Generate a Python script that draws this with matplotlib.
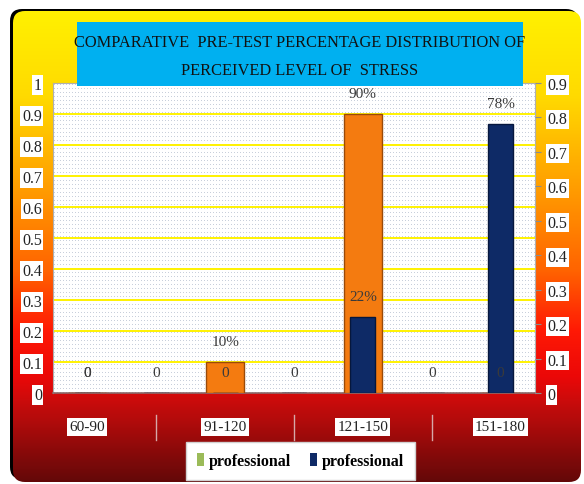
import numpy as np
import matplotlib
matplotlib.use("Agg")
import matplotlib.pyplot as plt
from matplotlib.patches import FancyBboxPatch, Rectangle, Patch
from matplotlib.lines import Line2D

# --- data ---
categories = ["60-90", "91-120", "121-150", "151-180"]
orange_slots = [0, 2, 4, 6]          # primary series sits on every second slot
orange_values = [0, 0.10, 0.90, 0]
navy_slots = [0, 1, 2, 3, 4, 5, 6]   # secondary series uses all seven slots
navy_values = [0, 0, 0, 0, 0.22, 0, 0.78]
left_ticks = [0, 0.1, 0.2, 0.3, 0.4, 0.5, 0.6, 0.7, 0.8, 0.9, 1]
right_ticks = [0, 0.1, 0.2, 0.3, 0.4, 0.5, 0.6, 0.7, 0.8, 0.9]
legend_labels = ["professional", "professional"]
title_lines = ["COMPARATIVE  PRE-TEST PERCENTAGE DISTRIBUTION OF",
               "PERCEIVED LEVEL OF  STRESS"]

ORANGE = "#F47B10"
NAVY = "#0E2A66"
SERIF = "Liberation Serif"

W, H = 584, 485
fig = plt.figure(figsize=(W / 100, H / 100), dpi=100)
fig.patch.set_facecolor("white")

# --- rounded gradient background ---
bg = fig.add_axes([0, 0, 1, 1], zorder=-10)
bg.axis("off")

bg.add_patch(FancyBboxPatch((10, 10), 568, 470, boxstyle="round,pad=0,rounding_size=12",
                            facecolor="black", edgecolor="none", zorder=0))
clip = FancyBboxPatch((13, 12), 568, 471, boxstyle="round,pad=0,rounding_size=12",
                      facecolor="none", edgecolor="none", zorder=0)
bg.add_patch(clip)

stops_y = np.array([12, 100, 200, 270, 330, 375, 405, 485]) / H
stops_c = np.array([
    [255, 242, 0], [255, 218, 0], [255, 150, 0], [255, 100, 0],
    [255, 25, 5], [235, 8, 8], [195, 12, 12], [90, 8, 8]]) / 255
yy = np.linspace(0, 1, 485)
grad = np.stack([np.interp(yy, stops_y, stops_c[:, k]) for k in range(3)], axis=-1)
grad = np.repeat(grad[:, None, :], 20, axis=1)
im = bg.imshow(grad, extent=(-5, W + 5, H + 5, -5), aspect="auto",
               interpolation="nearest", zorder=1)
im.set_clip_path(clip)
bg.set_xlim(0, W)
bg.set_ylim(H, 0)

# --- plot area ---
L, R, T, B = 53, 535, 84, 394
ax = fig.add_axes([L / W, 1 - B / H, (R - L) / W, (B - T) / H], zorder=2)
ax.set_xlim(-0.5, 6.5)
ax.set_ylim(0, 1)

# fine dotted fill of the plot area
pat = np.ones((B - T, R - L, 3))
pat[1::4, 1::3] = np.array([200, 207, 219]) / 255
ax.imshow(pat, extent=(-0.5, 6.5, 0, 1), aspect="auto", interpolation="nearest", zorder=0)
ax.set_xlim(-0.5, 6.5)
ax.set_ylim(0, 1)

ax.set_yticks(left_ticks)
ax.set_yticklabels([f"{t:g}" for t in left_ticks], fontfamily=SERIF, fontsize=11.5, color="#222222")
ax.set_xticks([])
ax.tick_params(axis="y", length=0, pad=8)
for lab in ax.get_yticklabels():
    lab.set_bbox(dict(facecolor="white", edgecolor="none", pad=1.2))
for t in left_ticks[1:-1]:
    ax.axhline(t, color="#FFF200", linewidth=1.4, zorder=1)
for side in ["left", "right", "top"]:
    ax.spines[side].set_color("#b0b0b0")
    ax.spines[side].set_linewidth(0.8)
ax.spines["bottom"].set_color("#8a6a6a")
ax.spines["bottom"].set_linewidth(1.2)

ax.bar(orange_slots, orange_values, width=0.56, color=ORANGE,
       edgecolor="#9a4a08", linewidth=1.0, zorder=3)

ax2 = ax.twinx()
ax2.set_ylim(0, 0.9)
ax2.set_yticks(right_ticks)
ax2.set_yticklabels([f"{t:g}" for t in right_ticks], fontfamily=SERIF, fontsize=11.5, color="#222222")
ax2.tick_params(axis="y", length=4, color="#8c8c8c", pad=5)
for lab in ax2.get_yticklabels():
    lab.set_bbox(dict(facecolor="white", edgecolor="none", pad=1.2))
for side in ax2.spines:
    ax2.spines[side].set_visible(False)

ax2.bar(navy_slots, navy_values, width=0.36, color=NAVY,
        edgecolor="#06173d", linewidth=1.0, zorder=3)

# data labels (all drawn on top axes so none are hidden)
def fmt(v):
    return "0" if v == 0 else f"{v:.0%}"

for x, v in zip(orange_slots, orange_values):
    ax2.annotate(fmt(v), xy=(x, v), xycoords=ax.transData, xytext=(0, 15),
                 textcoords="offset points", ha="center", va="center",
                 fontfamily=SERIF, fontsize=11, color="#3a3a3a", zorder=5)
for x, v in zip(navy_slots, navy_values):
    ax2.annotate(fmt(v), xy=(x, v), xycoords=ax2.transData, xytext=(0, 15),
                 textcoords="offset points", ha="center", va="center",
                 fontfamily=SERIF, fontsize=11, color="#3a3a3a", zorder=5)

# category labels under the plot, with separators
xt = ax.get_xaxis_transform()
for x, c in zip(orange_slots, categories):
    ax.text(x, -(428 - B) / (B - T), c, transform=xt, ha="center", va="center",
            fontfamily=SERIF, fontsize=11, color="#222222", clip_on=False,
            bbox=dict(facecolor="white", edgecolor="none", pad=1.5))
for x in [1, 3, 5]:
    ax.add_line(Line2D([x, x], [-(416 - B) / (B - T), -(441 - B) / (B - T)], transform=xt,
                       color="#d6a8a8", linewidth=1, clip_on=False))

# title box
fig.patches.append(Rectangle((77 / W, 1 - 87 / H), (523 - 77) / W, (87 - 23) / H,
                             transform=fig.transFigure, facecolor="#00B0F0",
                             edgecolor="none", zorder=5))
fig.text(300 / W, 1 - 43 / H, title_lines[0], ha="center", va="center",
         fontfamily=SERIF, fontsize=11.8, color="#111111", zorder=6)
fig.text(300 / W, 1 - 71 / H, title_lines[1], ha="center", va="center",
         fontfamily=SERIF, fontsize=11.8, color="#111111", zorder=6)

# legend
handles = [Patch(facecolor="#9BBB59", edgecolor="none"),
           Patch(facecolor=NAVY, edgecolor="none")]
leg = fig.legend(handles, legend_labels, loc="center", ncol=2,
                 bbox_to_anchor=(300.5 / W, 1 - 462 / H), frameon=True, fancybox=False,
                 prop={"family": SERIF, "size": 11.5, "weight": "bold"},
                 handlelength=0.45, handleheight=0.9, handletextpad=0.3,
                 columnspacing=1.2, borderpad=0.7)
leg.get_frame().set_facecolor("white")
leg.get_frame().set_edgecolor("#d0d0d0")
leg.get_frame().set_alpha(1)

fig.savefig("out.png", dpi=100)
